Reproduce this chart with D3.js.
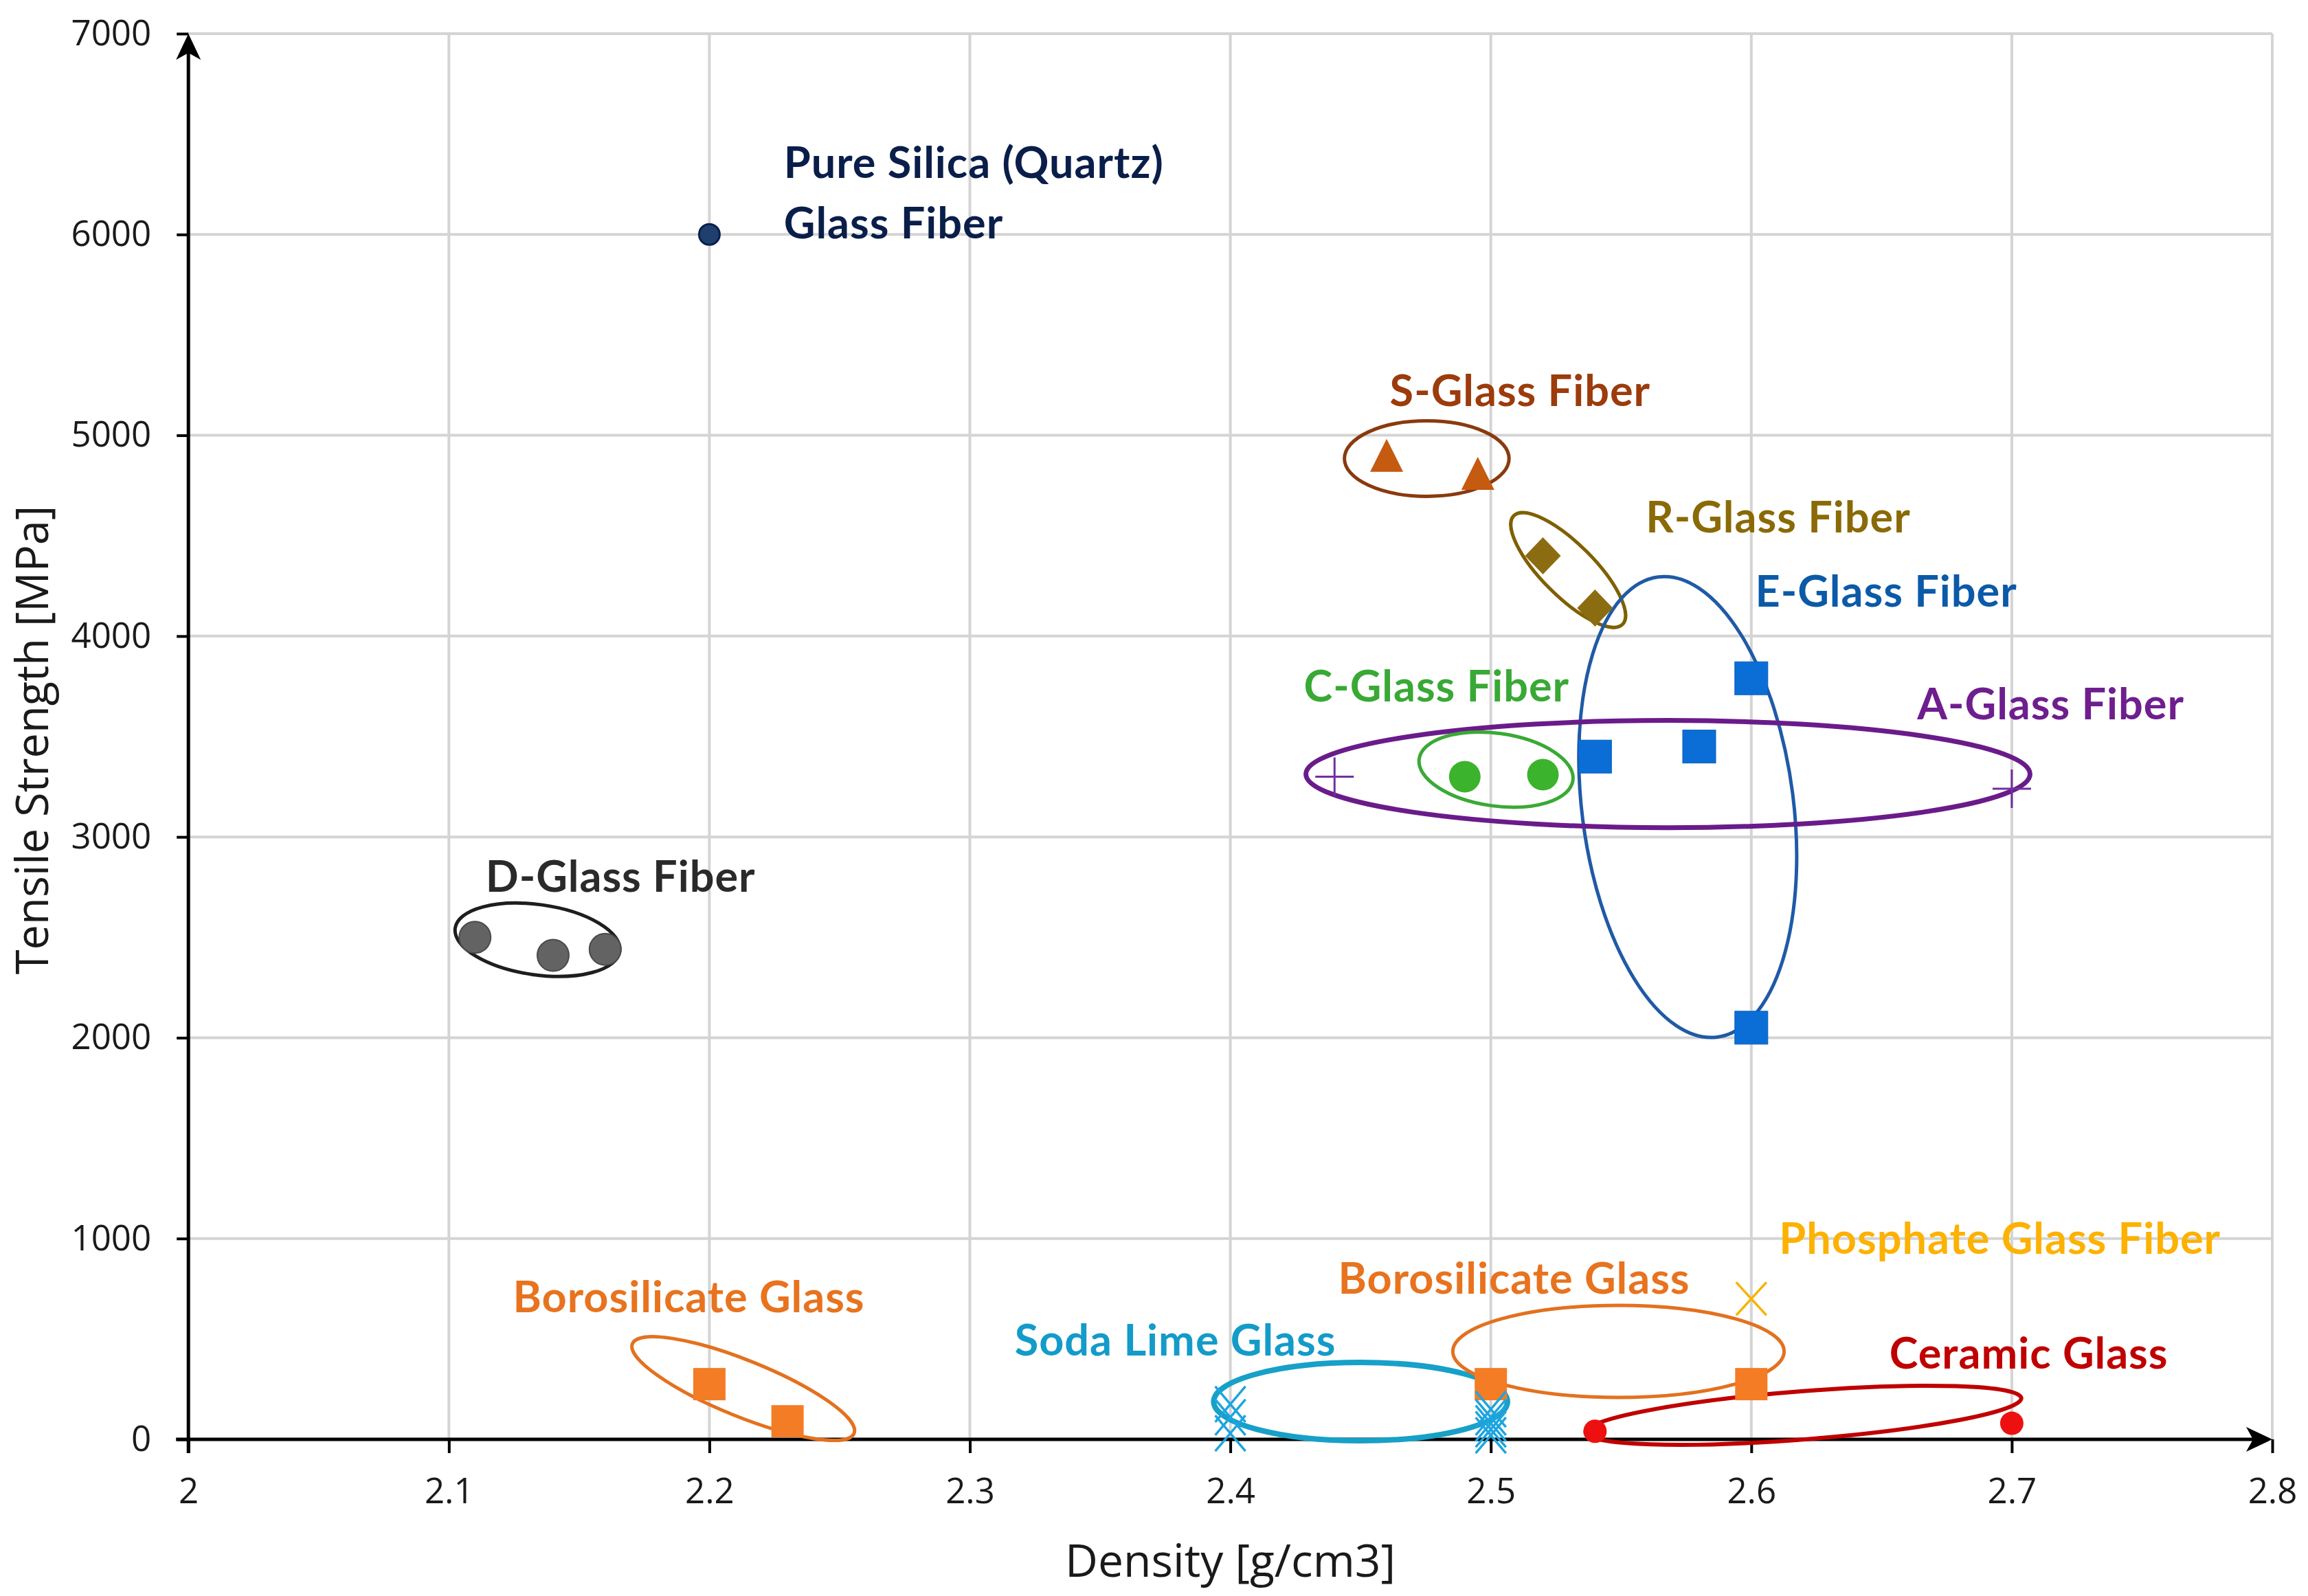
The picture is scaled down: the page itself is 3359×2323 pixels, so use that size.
<!DOCTYPE html>
<html><head><meta charset="utf-8">
<script src="https://cdn.jsdelivr.net/npm/d3@7"></script>
<style>
html,body{margin:0;padding:0;background:#fff;}
svg{display:block;}
</style></head>
<body>
<svg id="chart" width="3359" height="2323"></svg>
<script>
// ---- data (density g/cm3, tensile strength MPa) ----
const xTicks = [2, 2.1, 2.2, 2.3, 2.4, 2.5, 2.6, 2.7, 2.8];
const xTickLabels = ["2", "2.1", "2.2", "2.3", "2.4", "2.5", "2.6", "2.7", "2.8"];
const yTicks = [0, 1000, 2000, 3000, 4000, 5000, 6000, 7000];
const yTickLabels = ["0", "1000", "2000", "3000", "4000", "5000", "6000", "7000"];

const pureSilica = [[2.2, 6000]];
const sGlass = [[2.46, 4890], [2.495, 4800]];
const rGlass = [[2.52, 4400], [2.54, 4140]];
const eGlass = [[2.6, 3790], [2.54, 3400], [2.58, 3450], [2.6, 2050]];
const cGlass = [[2.49, 3300], [2.52, 3310]];
const aGlass = [[2.44, 3300], [2.7, 3240]];
const dGlass = [[2.11, 2500], [2.14, 2410], [2.16, 2440]];
const boroLeft = [[2.2, 275], [2.23, 90]];
const sodaLime = [[2.4, 175], [2.4, 110], [2.4, 30], [2.5, 150], [2.5, 110], [2.5, 80], [2.5, 50], [2.5, 20]];
const boroRight = [[2.5, 275], [2.6, 275]];
const phosphate = [[2.6, 700]];
const ceramic = [[2.54, 40], [2.7, 80]];

// group outlines: centre (data), radii (data units along x / y), rotation (deg)
const groupEllipses = [
  {cx: 2.4754, cy: 4884, rx: 0.0316, ry: 188, rot: 0, color: "#8a3a0e", w: 5},
  {cx: 2.5297, cy: 4329, rx: 0.0295, ry: 130, rot: 45, color: "#7f6000", w: 5},
  {cx: 2.5756, cy: 3149, rx: 0.0406, ry: 1155, rot: -7.3, color: "#1f5aa6", w: 5},
  {cx: 2.568, cy: 3313, rx: 0.139, ry: 267, rot: 0, color: "#6a1b8a", w: 7},
  {cx: 2.502, cy: 3335, rx: 0.0298, ry: 181, rot: 8, color: "#3aa935", w: 5},
  {cx: 2.134, cy: 2488, rx: 0.0319, ry: 175, rot: 8, color: "#1e1e1e", w: 5},
  {cx: 2.213, cy: 253, rx: 0.0459, ry: 140, rot: 22, color: "#e3711f", w: 5},
  {cx: 2.450, cy: 188, rx: 0.0564, ry: 195, rot: 0, color: "#17a0c8", w: 8},
  {cx: 2.549, cy: 438, rx: 0.0636, ry: 229, rot: 0, color: "#e3711f", w: 5},
  {cx: 2.620, cy: 120, rx: 0.0839, ry: 120, rot: -4.5, color: "#c00000", w: 6}
];

const labels = [
  {lines: ["Pure Silica (Quartz)", "Glass Fiber"], x: 2.2286, y: 6280, color: "#0a1e4a"},
  {lines: ["S-Glass Fiber"], x: 2.4612, y: 5144, color: "#9c3b0c"},
  {lines: ["R-Glass Fiber"], x: 2.5595, y: 4517, color: "#8a6a06"},
  {lines: ["E-Glass Fiber"], x: 2.6015, y: 4148, color: "#0b5aa8"},
  {lines: ["A-Glass Fiber"], x: 2.6637, y: 3587, color: "#6f1e8e"},
  {lines: ["C-Glass Fiber"], x: 2.4282, y: 3676, color: "#39a935"},
  {lines: ["D-Glass Fiber"], x: 2.1141, y: 2728, color: "#2a2a2a"},
  {lines: ["Borosilicate Glass"], x: 2.1246, y: 633, color: "#e8731f"},
  {lines: ["Soda Lime Glass"], x: 2.3172, y: 418, color: "#139bc9"},
  {lines: ["Borosilicate Glass"], x: 2.4414, y: 726, color: "#e8731f"},
  {lines: ["Phosphate Glass Fiber"], x: 2.6107, y: 924, color: "#fdb100"},
  {lines: ["Ceramic Glass"], x: 2.653, y: 352, color: "#c00000"}
];

// ---- drawing ----
const svg = d3.select("#chart");
const x = d3.scaleLinear().domain([2, 2.8]).range([274.2, 3307]);
const y = d3.scaleLinear().domain([0, 7000]).range([2095, 49]);
const pxPerX = (x(2.8) - x(2)) / 0.8;
const pxPerY = (y(0) - y(7000)) / 7000;

// gridlines
const grid = svg.append("g").attr("stroke", "#d4d4d4").attr("stroke-width", 4);
grid.selectAll("line.h").data(yTicks.filter(d => d > 0)).join("line")
  .attr("x1", x(2)).attr("x2", x(2.8)).attr("y1", d => y(d)).attr("y2", d => y(d));
grid.selectAll("line.v").data(xTicks.filter(d => d > 2)).join("line")
  .attr("x1", d => x(d)).attr("x2", d => x(d)).attr("y1", y(7000)).attr("y2", y(0));

// axes
const xAxis = d3.axisBottom(x).tickValues(xTicks).tickFormat((d, i) => xTickLabels[i])
  .tickSize(20).tickPadding(37);
const yAxis = d3.axisLeft(y).tickValues(yTicks).tickFormat((d, i) => yTickLabels[i])
  .tickSize(17).tickPadding(37);
const gx = svg.append("g").attr("transform", `translate(0,${y(0)})`).call(xAxis);
const gy = svg.append("g").attr("transform", `translate(${x(2)},0)`).call(yAxis);
[gx, gy].forEach(g => {
  g.select(".domain").remove();
  g.selectAll(".tick line").attr("stroke", "#000").attr("stroke-width", 4);
  g.selectAll(".tick text").attr("fill", "#1a1a1a")
    .style("font-family", "'Open Sans', sans-serif").style("font-size", "51px");
});

// axis lines with arrows
svg.append("line").attr("x1", x(2) - 18).attr("x2", x(2.8) - 20)
  .attr("y1", y(0)).attr("y2", y(0)).attr("stroke", "#000").attr("stroke-width", 5);
svg.append("line").attr("x1", x(2)).attr("x2", x(2))
  .attr("y1", y(0) + 20).attr("y2", y(7000) + 20).attr("stroke", "#000").attr("stroke-width", 5);
svg.append("path").attr("d", "M0,0 L-18,38 L0,28 L18,38 Z").attr("fill", "#000")
  .attr("transform", `translate(${x(2)},${y(7000)})`);
svg.append("path").attr("d", "M0,0 L-18,38 L0,28 L18,38 Z").attr("fill", "#000")
  .attr("transform", `translate(${x(2.8)},${y(0)}) rotate(90)`);

// axis titles
svg.append("text").text("Density [g/cm3]")
  .attr("x", (x(2) + x(2.8)) / 2).attr("y", 2295).attr("text-anchor", "middle")
  .attr("fill", "#1a1a1a").style("font-family", "'Open Sans', sans-serif").style("font-size", "66px");
svg.append("text").text("Tensile Strength [MPa]")
  .attr("transform", `translate(70,${(y(0) + y(7000)) / 2 + 5}) rotate(-90)`).attr("text-anchor", "middle")
  .attr("fill", "#1a1a1a").style("font-family", "'Open Sans', sans-serif").style("font-size", "65px");

// group ellipses
svg.append("g").selectAll("ellipse").data(groupEllipses).join("ellipse")
  .attr("cx", 0).attr("cy", 0)
  .attr("rx", d => d.rx * pxPerX)
  .attr("ry", d => d.ry * pxPerY)
  .attr("transform", d => `translate(${x(d.cx)},${y(d.cy)}) rotate(${d.rot})`)
  .attr("fill", "none").attr("stroke", d => d.color).attr("stroke-width", d => d.w);

// markers
const m = svg.append("g");
m.selectAll("circle.ps").data(pureSilica).join("circle")
  .attr("cx", d => x(d[0])).attr("cy", d => y(d[1])).attr("r", 15)
  .attr("fill", "#1f3f6e").attr("stroke", "#0b1f4d").attr("stroke-width", 3);
m.selectAll("path.s").data(sGlass).join("path")
  .attr("d", "M0,-27 L24,21 L-24,21 Z")
  .attr("transform", d => `translate(${x(d[0])},${y(d[1])})`).attr("fill", "#c55a11");
m.selectAll("path.r").data(rGlass).join("path")
  .attr("d", "M0,-27 L26,0 L0,27 L-26,0 Z")
  .attr("transform", d => `translate(${x(d[0])},${y(d[1])})`).attr("fill", "#8c6c10");
m.selectAll("rect.e").data(eGlass).join("rect")
  .attr("x", d => x(d[0]) - 24).attr("y", d => y(d[1]) - 24).attr("width", 48).attr("height", 48)
  .attr("fill", "#0b6ed6").attr("stroke", "#0a5fb8").attr("stroke-width", 1);
m.selectAll("circle.c").data(cGlass).join("circle")
  .attr("cx", d => x(d[0])).attr("cy", d => y(d[1])).attr("r", 23).attr("fill", "#3cb32d");
m.selectAll("path.a").data(aGlass).join("path")
  .attr("d", "M-28,0 L28,0 M0,-28 L0,28")
  .attr("transform", d => `translate(${x(d[0])},${y(d[1])})`)
  .attr("stroke", "#7030a0").attr("stroke-width", 3).attr("fill", "none");
m.selectAll("circle.d").data(dGlass).join("circle")
  .attr("cx", d => x(d[0])).attr("cy", d => y(d[1])).attr("r", 23)
  .attr("fill", "#636363").attr("stroke", "#4a4a4a").attr("stroke-width", 2);
m.selectAll("rect.b1").data(boroLeft.concat(boroRight)).join("rect")
  .attr("x", d => x(d[0]) - 23.5).attr("y", d => y(d[1]) - 23.5).attr("width", 47).attr("height", 47)
  .attr("fill", "#f47c25");
m.selectAll("path.sl").data(sodaLime).join("path")
  .attr("d", "M-22,-26 L22,26 M22,-26 L-22,26")
  .attr("transform", d => `translate(${x(d[0])},${y(d[1])})`)
  .attr("stroke", "#1da5df").attr("stroke-width", 3.5).attr("fill", "none");
m.selectAll("path.p").data(phosphate).join("path")
  .attr("d", "M-22,-24 L22,24 M22,-24 L-22,24")
  .attr("transform", d => `translate(${x(d[0])},${y(d[1])})`)
  .attr("stroke", "#f5b300").attr("stroke-width", 3.5).attr("fill", "none");
m.selectAll("circle.ce").data(ceramic).join("circle")
  .attr("cx", d => x(d[0])).attr("cy", d => y(d[1])).attr("r", 17).attr("fill", "#ee1010");

// labels
const lg = svg.append("g").style("font-family", "Lato, sans-serif").style("font-weight", "bold")
  .style("font-size", "63px").style("letter-spacing", "1px");
labels.forEach(l => {
  const t = lg.append("text").attr("x", x(l.x)).attr("y", y(l.y)).attr("fill", l.color);
  l.lines.forEach((s, i) => {
    t.append("tspan").attr("x", x(l.x)).attr("dy", i === 0 ? 0 : 88).text(s);
  });
});
</script>
</body></html>
